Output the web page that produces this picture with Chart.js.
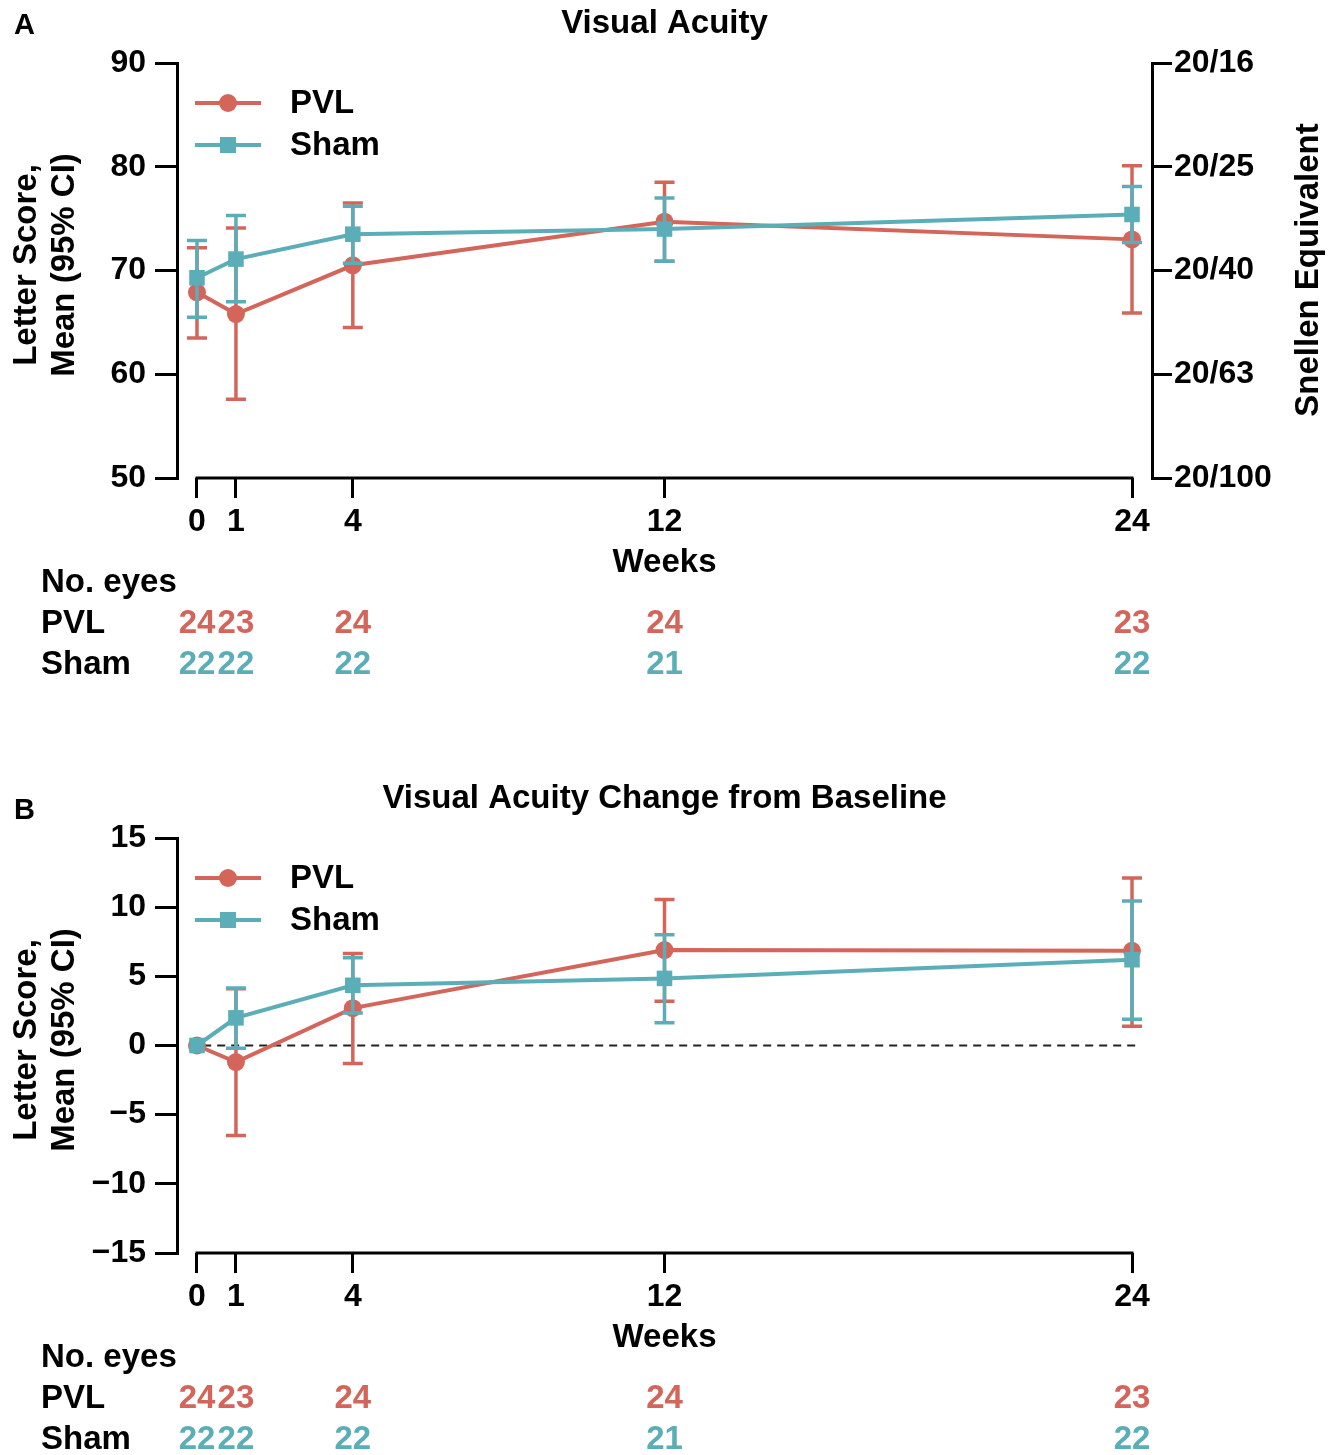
<!DOCTYPE html>
<html>
<head>
    <title>Visual Acuity</title>
    <meta charset="UTF-8">
    <script src="https://cdn.jsdelivr.net/npm/chart.js@4.4.1/dist/chart.umd.min.js"></script>
    <style>
        body { margin: 0; background: #fff; }
        canvas { display: block; }
    </style>
</head>
<body>
    <canvas id="chartA" width="1340" height="775"></canvas>
    <canvas id="chartB" width="1340" height="680"></canvas>
    <script>
        // weeks and numbers at risk
        const weeks = [0, 1, 4, 12, 24];
        const pvlEyes = [24, 23, 24, 24, 23];
        const shamEyes = [22, 22, 22, 21, 22];

        // panel A: letter score, mean and 95% CI
        const pvlMeanA = [67.9, 65.8, 70.5, 74.7, 73.0];
        const pvlLowA = [63.5, 57.6, 64.5, 70.9, 65.9];
        const pvlHighA = [72.2, 74.1, 76.5, 78.5, 80.1];
        const shamMeanA = [69.3, 71.1, 73.5, 74.0, 75.4];
        const shamLowA = [65.5, 67.0, 70.7, 70.9, 72.7];
        const shamHighA = [72.9, 75.3, 76.2, 77.0, 78.1];
        const snellenLabels = ['20/100', '20/63', '20/40', '20/25', '20/16'];

        // panel B: change from baseline
        const pvlMeanB = [0, -1.2, 2.7, 6.9, 6.85];
        const pvlLowB = [null, -6.5, -1.3, 3.2, 1.4];
        const pvlHighB = [null, 4.1, 6.65, 10.55, 12.1];
        const shamMeanB = [0, 2.0, 4.35, 4.85, 6.2];
        const shamLowB = [null, -0.2, 2.35, 1.65, 1.9];
        const shamHighB = [null, 4.15, 6.35, 8.0, 10.45];

        const red = '#D3655A';
        const teal = '#5BAEB7';
        const font = '"Liberation Sans", Arial, Helvetica, sans-serif';
        const tickFont = {family: font, size: 32, weight: 'bold'};
        const textFont = 'bold 33px ' + font;

        function pts(ys) {
            return weeks.map((w, i) => ({x: w, y: ys[i]}));
        }

        function minus(v) {
            return v < 0 ? '\u2212' + Math.abs(v) : String(v);
        }

        const extras = {
            id: 'extras',
            afterDatasetDraw(chart, args, opts) {
                const e = opts.errors[args.index];
                if (!e) return;
                const ctx = chart.ctx;
                const xs = chart.scales.x, ys = chart.scales.y;
                ctx.save();
                ctx.strokeStyle = e.color;
                ctx.lineWidth = 3.5;
                weeks.forEach((w, i) => {
                    if (e.low[i] == null) return;
                    const x = xs.getPixelForValue(w);
                    const y1 = ys.getPixelForValue(e.low[i]);
                    const y2 = ys.getPixelForValue(e.high[i]);
                    ctx.beginPath();
                    ctx.moveTo(x, y1); ctx.lineTo(x, y2);
                    ctx.moveTo(x - 10, y1); ctx.lineTo(x + 10, y1);
                    ctx.moveTo(x - 10, y2); ctx.lineTo(x + 10, y2);
                    ctx.stroke();
                });
                ctx.restore();
            },
            afterDraw(chart, args, opts) {
                const ctx = chart.ctx;
                const xs = chart.scales.x;
                const area = chart.chartArea;
                ctx.save();
                // x axis line only over the data range
                ctx.strokeStyle = '#000';
                ctx.lineWidth = 3;
                ctx.beginPath();
                ctx.moveTo(xs.getPixelForValue(weeks[0]) - 1.5, area.bottom);
                ctx.lineTo(xs.getPixelForValue(weeks[weeks.length - 1]) + 1.5, area.bottom);
                ctx.stroke();

                ctx.fillStyle = '#000';
                ctx.font = textFont;
                ctx.textBaseline = 'middle';
                ctx.textAlign = 'center';
                ctx.fillText(opts.title, (area.left + area.right) / 2, opts.titleY);
                ctx.fillText('Weeks', (area.left + area.right) / 2, 563);
                ctx.textAlign = 'left';
                ctx.font = 'bold 29px ' + font;
                ctx.fillText(opts.letter, 14, opts.letterY);
                ctx.font = textFont;

                // at-risk table
                ctx.fillText('No. eyes', 41, 583);
                ctx.fillText('PVL', 41, 624);
                ctx.fillText('Sham', 41, 665);
                ctx.textAlign = 'center';
                weeks.forEach((w, i) => {
                    const x = xs.getPixelForValue(w);
                    ctx.fillStyle = red;
                    ctx.fillText(String(pvlEyes[i]), x, 624);
                    ctx.fillStyle = teal;
                    ctx.fillText(String(shamEyes[i]), x, 665);
                });

                // legend
                [[red, 'circle', 'PVL', 103], [teal, 'rect', 'Sham', 145]].forEach(l => {
                    ctx.strokeStyle = l[0];
                    ctx.fillStyle = l[0];
                    ctx.lineWidth = 4;
                    ctx.beginPath();
                    ctx.moveTo(195, l[3]); ctx.lineTo(261, l[3]);
                    ctx.stroke();
                    if (l[1] === 'circle') {
                        ctx.beginPath();
                        ctx.arc(228, l[3], 9, 0, Math.PI * 2);
                        ctx.fill();
                    } else {
                        ctx.fillRect(220, l[3] - 8, 16, 16);
                    }
                    ctx.fillStyle = '#000';
                    ctx.textAlign = 'left';
                    ctx.fillText(l[2], 290, l[3] + 1);
                });

                // axis titles
                ctx.fillStyle = '#000';
                ctx.textAlign = 'center';
                ctx.save();
                ctx.translate(27, 265);
                ctx.rotate(-Math.PI / 2);
                ctx.fillText('Letter Score,', 0, 0);
                ctx.fillText('Mean (95% CI)', 0, 38);
                ctx.restore();
                if (opts.snellen) {
                    ctx.save();
                    ctx.translate(1309, 270);
                    ctx.rotate(-Math.PI / 2);
                    ctx.fillText('Snellen Equivalent', 0, 0);
                    ctx.restore();
                }
                ctx.restore();
            }
        };

        function series(label, ys, color, style, radius, order) {
            return {
                label: label,
                data: pts(ys),
                borderColor: color,
                backgroundColor: color,
                borderWidth: 4,
                pointStyle: style,
                pointRadius: radius,
                pointBorderWidth: 0,
                order: order,
                clip: false
            };
        }

        function axisGrid(len) {
            return {display: true, drawOnChartArea: false, drawTicks: true, tickLength: len, color: '#000', lineWidth: 3};
        }

        function makeChart(id, cfg) {
            const scales = {
                x: {
                    type: 'linear',
                    min: -0.513,
                    max: 24.513,
                    afterBuildTicks: s => { s.ticks = weeks.map(v => ({value: v})); },
                    afterFit: s => { s.height = cfg.height - 478; },
                    grid: axisGrid(20),
                    border: {display: false},
                    ticks: {color: '#000', font: tickFont, padding: 5, maxRotation: 0, autoSkip: false}
                },
                y: {
                    type: 'linear',
                    position: 'left',
                    min: cfg.min,
                    max: cfg.max,
                    afterFit: s => { s.width = 177; },
                    grid: axisGrid(22),
                    border: {display: true, color: '#000', width: 3},
                    ticks: {color: '#000', font: tickFont, padding: 9, stepSize: cfg.step, callback: v => minus(v)}
                }
            };
            if (cfg.snellen) {
                scales.y2 = {
                    type: 'linear',
                    position: 'right',
                    min: cfg.min,
                    max: cfg.max,
                    afterFit: s => { s.width = 188; },
                    grid: axisGrid(20),
                    border: {display: true, color: '#000', width: 3},
                    ticks: {color: '#000', font: tickFont, padding: 2, stepSize: 10,
                        callback: v => snellenLabels[(v - cfg.min) / 10]}
                };
            }
            return new Chart(document.getElementById(id), {
                type: 'line',
                data: {datasets: cfg.datasets},
                options: {
                    responsive: false,
                    animation: false,
                    layout: {padding: {top: 63, left: 0, right: cfg.snellen ? 0 : 188, bottom: 0}},
                    scales: scales,
                    plugins: {
                        legend: {display: false},
                        tooltip: {enabled: false},
                        extras: cfg.extras
                    }
                },
                plugins: [extras]
            });
        }

        makeChart('chartA', {
            height: 775, min: 50, max: 90, step: 10, snellen: true,
            datasets: [
                series('PVL', pvlMeanA, red, 'circle', 9, 2),
                series('Sham', shamMeanA, teal, 'rect', 11, 1)
            ],
            extras: {
                title: 'Visual Acuity', titleY: 24, letter: 'A', letterY: 26, snellen: true,
                errors: [
                    {low: pvlLowA, high: pvlHighA, color: red},
                    {low: shamLowA, high: shamHighA, color: teal}
                ]
            }
        });

        makeChart('chartB', {
            height: 680, min: -15, max: 15, step: 5, snellen: false,
            datasets: [
                series('PVL', pvlMeanB, red, 'circle', 9, 2),
                series('Sham', shamMeanB, teal, 'rect', 11, 1),
                {
                    label: 'zero',
                    data: [{x: -0.2, y: 0}, {x: 24.2, y: 0}],
                    borderColor: '#222',
                    borderWidth: 2,
                    borderDash: [8, 6],
                    pointRadius: 0,
                    order: 3
                }
            ],
            extras: {
                title: 'Visual Acuity Change from Baseline', titleY: 24, letter: 'B', letterY: 36, snellen: false,
                errors: [
                    {low: pvlLowB, high: pvlHighB, color: red},
                    {low: shamLowB, high: shamHighB, color: teal}
                ]
            }
        });
    </script>
</body>
</html>
